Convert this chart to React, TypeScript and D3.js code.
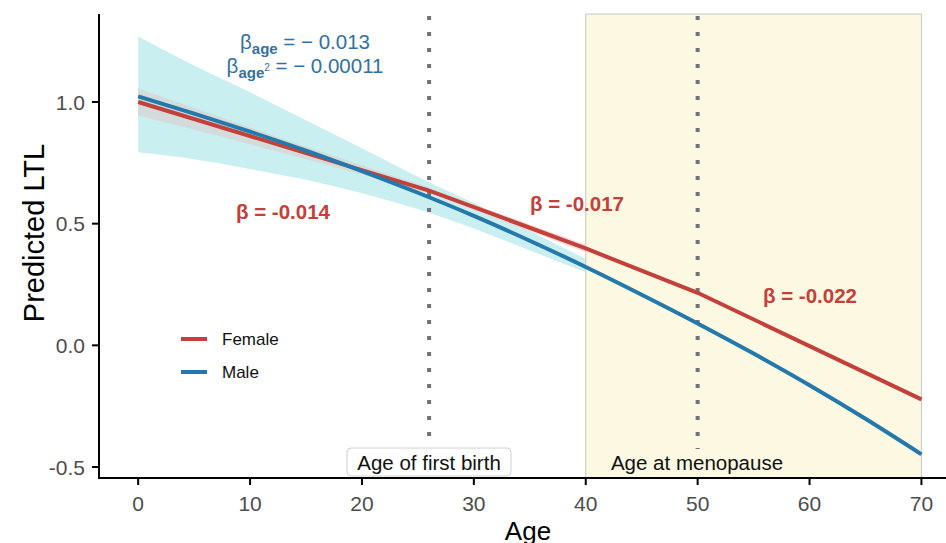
import React from "react";
import * as d3 from "d3";

const femaleAges = [0, 26, 40, 50, 70];
const femaleLTL = [1.0, 0.636, 0.398, 0.216, -0.222];

const maleAges = [0, 5, 10, 15, 20, 25, 30, 35, 40, 45, 50, 55, 60, 65, 70];
const maleLTL = [1.023, 0.952, 0.878, 0.8, 0.716, 0.627, 0.532, 0.43, 0.322, 0.208, 0.09, -0.034, -0.164, -0.302, -0.448];

const maleBandAges = [0, 5, 10, 15, 20, 26, 30, 35, 40];
const maleBandHigh = [1.269, 1.15, 1.04, 0.925, 0.81, 0.67, 0.585, 0.47, 0.355];
const maleBandLow = [0.793, 0.765, 0.725, 0.68, 0.625, 0.545, 0.48, 0.39, 0.3];

const femaleBandAges = [0, 13, 26];
const femaleBandHigh = [1.055, 0.848, 0.648];
const femaleBandLow = [0.945, 0.79, 0.624];
const femaleBand2Ages = [26, 40];
const femaleBand2High = [0.646, 0.414];
const femaleBand2Low = [0.626, 0.382];

const xTicks = [0, 10, 20, 30, 40, 50, 60, 70];
const yTicks = [-0.5, 0.0, 0.5, 1.0];
const events = [26, 50];
const menopauseSpan = [40, 70];

const RED = "#c4403a";
const BLUE = "#2379ab";
const ANNO_BLUE = "#3571a0";
const YELLOW = "#fdf8e1";

export default function App() {
  const x = d3.scaleLinear().domain([-3.5, 73.5]).range([99, 960.6]);
  const y = d3.scaleLinear().domain([-0.5, 1.0]).range([467, 102]);
  const top = 14;
  const bottom = 478;

  const line = d3
    .line<[number, number]>()
    .x((d) => x(d[0]))
    .y((d) => y(d[1]));
  const smooth = d3
    .line<[number, number]>()
    .x((d) => x(d[0]))
    .y((d) => y(d[1]))
    .curve(d3.curveMonotoneX);
  const area = d3
    .area<[number, number, number]>()
    .x((d) => x(d[0]))
    .y0((d) => y(d[2]))
    .y1((d) => y(d[1]))
    .curve(d3.curveMonotoneX);

  const femalePts = femaleAges.map((a, i) => [a, femaleLTL[i]] as [number, number]);
  const malePts = maleAges.map((a, i) => [a, maleLTL[i]] as [number, number]);
  const maleBand = maleBandAges.map((a, i) => [a, maleBandHigh[i], maleBandLow[i]] as [number, number, number]);
  const femBand = femaleBandAges.map((a, i) => [a, femaleBandHigh[i], femaleBandLow[i]] as [number, number, number]);
  const femBand2 = femaleBand2Ages.map((a, i) => [a, femaleBand2High[i], femaleBand2Low[i]] as [number, number, number]);

  const font = "Liberation Sans, Arial, Helvetica, sans-serif";

  return (
    <svg
      width={946}
      height={543}
      style={{ position: "absolute", left: 0, top: 0, background: "#fff" }}
      fontFamily={font}
    >
      {/* ribbons */}
      <path d={area(maleBand) || ""} fill="#c9eff1" />
      <path d={area(femBand) || ""} fill="#d4d9d9" opacity={0.95} />
      <path d={area(femBand2) || ""} fill="#f6d6d4" opacity={0.8} />

      {/* menopause rect */}
      <rect
        x={x(menopauseSpan[0])}
        y={top}
        width={x(menopauseSpan[1]) - x(menopauseSpan[0])}
        height={bottom - top}
        fill={YELLOW}
        stroke="#c8c8c0"
        strokeWidth={1}
      />

      {/* event lines */}
      {events.map((e) => (
        <line
          key={e}
          x1={x(e)}
          x2={x(e)}
          y1={top + 2}
          y2={bottom}
          stroke="#70737a"
          strokeWidth={4}
          strokeDasharray="4,12"
        />
      ))}

      {/* lines */}
      <path d={line(femalePts) || ""} fill="none" stroke={RED} strokeWidth={4} />
      <path d={smooth(malePts) || ""} fill="none" stroke={BLUE} strokeWidth={4} />

      {/* male annotation */}
      <text x={305} y={49} textAnchor="middle" fill={ANNO_BLUE} fontSize={20.5}>
        β<tspan fontSize={15} fontWeight="bold" dy={5}>age</tspan>
        <tspan dy={-5}> = − 0.013</tspan>
      </text>
      <text x={305} y={73} textAnchor="middle" fill={ANNO_BLUE} fontSize={20.5}>
        β<tspan fontSize={15} fontWeight="bold" dy={5}>age</tspan>
        <tspan fontSize={10} dy={-7}>2</tspan>
        <tspan dy={2}> = − 0.00011</tspan>
      </text>

      {/* female slopes */}
      <text x={283} y={219} textAnchor="middle" fill={RED} fontSize={20.5} fontWeight="bold">
        β = -0.014
      </text>
      <text x={577} y={211} textAnchor="middle" fill={RED} fontSize={20.5} fontWeight="bold">
        β = -0.017
      </text>
      <text x={810} y={303} textAnchor="middle" fill={RED} fontSize={20.5} fontWeight="bold">
        β = -0.022
      </text>

      {/* event labels */}
      <rect x={347} y={448} width={164} height={28} rx={4} fill="#fff" stroke="#d0d0d0" strokeWidth={1} />
      <text x={429} y={470} textAnchor="middle" fontSize={20.5} fill="#111">
        Age of first birth
      </text>
      <rect x={603} y={449} width={188} height={26} rx={4} fill={YELLOW} />
      <text x={697} y={470} textAnchor="middle" fontSize={20.5} fill="#111">
        Age at menopause
      </text>

      {/* legend */}
      <line x1={181} x2={207} y1={339} y2={339} stroke={RED} strokeWidth={4} />
      <text x={222} y={345} fontSize={17} fill="#111">Female</text>
      <line x1={181} x2={207} y1={372} y2={372} stroke={BLUE} strokeWidth={4} />
      <text x={222} y={378} fontSize={17} fill="#111">Male</text>

      {/* axes */}
      <line x1={99} x2={99} y1={top} y2={bottom + 1} stroke="#000" strokeWidth={2} />
      <line x1={98} x2={946} y1={bottom} y2={bottom} stroke="#000" strokeWidth={2} />
      {yTicks.map((t) => (
        <g key={t}>
          <line x1={92} x2={99} y1={y(t)} y2={y(t)} stroke="#000" strokeWidth={2} />
          <text x={85} y={y(t) + 7.5} textAnchor="end" fontSize={21} fill="#4d4d4d">
            {d3.format(".1f")(t).replace("−", "-")}
          </text>
        </g>
      ))}
      {xTicks.map((t) => (
        <g key={t}>
          <line x1={x(t)} x2={x(t)} y1={bottom} y2={bottom + 7} stroke="#000" strokeWidth={2} />
          <text x={x(t)} y={511} textAnchor="middle" fontSize={21} fill="#4d4d4d">
            {t}
          </text>
        </g>
      ))}
      <text x={528} y={540} textAnchor="middle" fontSize={26} fill="#000">Age</text>
      <text
        transform={`translate(44,${233}) rotate(-90)`}
        textAnchor="middle"
        fontSize={29}
        fill="#000"
      >
        Predicted LTL
      </text>
    </svg>
  );
}
